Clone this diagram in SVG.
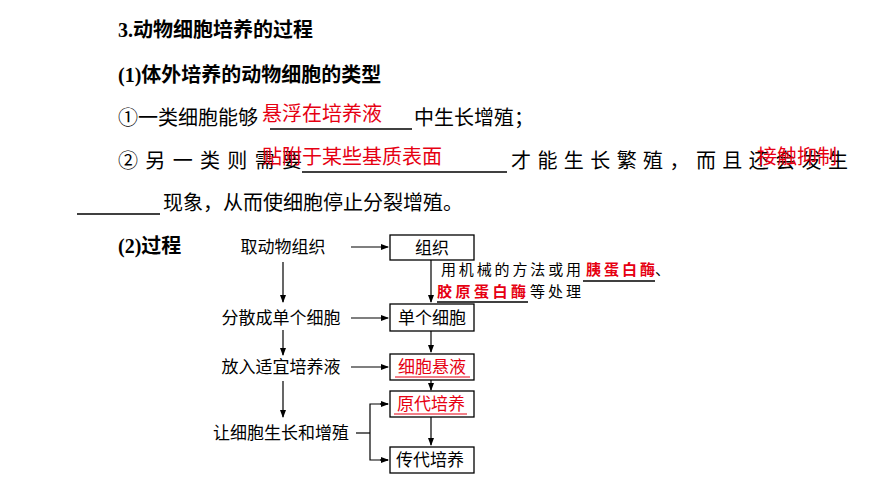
<svg xmlns="http://www.w3.org/2000/svg" width="870" height="489" viewBox="0 0 870 489">
<defs>
<marker id="ar" markerWidth="8" markerHeight="8" refX="7" refY="4" orient="auto" markerUnits="userSpaceOnUse"><path d="M0,1 L8,4 L0,7 Z" fill="#000"/></marker>
<style>
text{font-family:"Liberation Serif","Noto Sans CJK SC",serif;fill:#000}
.m{font-size:20px}
.r{fill:#e60012}
.f{font-size:17px}
.a{font-size:15px}
.b{fill:#fff;stroke:#000;stroke-width:1.3}
.l{stroke:#000;stroke-width:1.2;fill:none}
.u{stroke:#000;stroke-width:1.3}
</style>
</defs>
<rect width="870" height="489" fill="#fff"/>
<g id="text">
<text class="m" x="118" y="37" font-weight="bold">3.动物细胞培养的过程</text>
<text class="m" x="118" y="82" font-weight="bold">(1)体外培养的动物细胞的类型</text>
<text class="m" x="118" y="125">①一类细胞能够</text>
<line class="u" x1="270" y1="129" x2="412" y2="129"/>
<text class="m" x="414" y="125">中生长增殖；</text>
<text class="m r" x="262" y="121">悬浮在培养液</text>
<text class="m" x="118" y="168" textLength="184">②另一类则需要</text>
<line class="u" x1="302" y1="172" x2="507" y2="172"/>
<text class="m" x="511" y="168" textLength="337">才能生长繁殖，而且还会发生</text>
<text class="m r" x="262" y="164">贴附于某些基质表面</text>
<text class="m r" x="757" y="164">接触抑制</text>
<line class="u" x1="77" y1="214" x2="160" y2="214"/>
<text class="m" x="163" y="210">现象，从而使细胞停止分裂增殖。</text>
<text class="m" x="118" y="253" font-weight="bold">(2)过程</text>
</g>
<rect x="204" y="229" width="466" height="254" fill="#fff"/>
<g id="n1"><rect class="b" x="390" y="235" width="84" height="25"/><text class="f" x="432" y="254" text-anchor="middle">组织</text></g>
<g id="n2"><rect class="b" x="390" y="304" width="84" height="27"/><text class="f" x="432" y="324" text-anchor="middle">单个细胞</text></g>
<g id="n3"><rect class="b" x="390" y="354" width="84" height="26"/><text class="f r" x="432" y="373" text-anchor="middle">细胞悬液</text><line stroke="#e60012" x1="395" y1="377" x2="470" y2="377"/></g>
<g id="n4"><rect class="b" x="390" y="391" width="84" height="26"/><text class="f r" x="431" y="410" text-anchor="middle">原代培养</text><line stroke="#e60012" x1="394" y1="414" x2="467" y2="414"/></g>
<g id="n5"><rect class="b" x="390" y="447" width="84" height="26"/><text class="f" x="430" y="466" text-anchor="middle">传代培养</text></g>
<g id="left">
<text class="f" x="283" y="253" text-anchor="middle">取动物组织</text>
<text class="f" x="281" y="324" text-anchor="middle">分散成单个细胞</text>
<text class="f" x="281" y="373" text-anchor="middle">放入适宜培养液</text>
<text class="f" x="281" y="439" text-anchor="middle">让细胞生长和增殖</text>
</g>
<g id="note">
<text class="a" x="441" y="275" textLength="140">用机械的方法或用</text>
<text class="a r" x="586" y="275" textLength="69" font-weight="bold">胰蛋白酶</text>
<text class="a" x="655" y="275">、</text>
<line class="u" x1="583" y1="281" x2="655" y2="281"/>
<text class="a r" x="437" y="297" textLength="89" font-weight="bold">胶原蛋白酶</text>
<text class="a" x="530" y="297" textLength="51">等处理</text>
<line class="u" x1="437" y1="302" x2="528" y2="302"/>
</g>
<g id="connectors">
<line class="l" x1="351" y1="247" x2="388" y2="247" marker-end="url(#ar)"/>
<line class="l" x1="351" y1="318" x2="388" y2="318" marker-end="url(#ar)"/>
<line class="l" x1="351" y1="367" x2="388" y2="367" marker-end="url(#ar)"/>
<line class="l" x1="283" y1="262" x2="283" y2="302" marker-end="url(#ar)"/>
<line class="l" x1="283" y1="330" x2="283" y2="355" marker-end="url(#ar)"/>
<line class="l" x1="283" y1="381" x2="283" y2="417" marker-end="url(#ar)"/>
<line class="l" x1="431" y1="260" x2="431" y2="302" marker-end="url(#ar)"/>
<line class="l" x1="431" y1="331" x2="431" y2="352" marker-end="url(#ar)"/>
<line class="l" x1="431" y1="380" x2="431" y2="390" marker-end="url(#ar)"/>
<line class="l" x1="431" y1="417" x2="431" y2="445" marker-end="url(#ar)"/>
<polyline class="l" points="356,433 370,433"/>
<polyline class="l" points="388,404 370,404 370,460 388,460"/>
<line class="l" x1="380" y1="404" x2="388" y2="404" marker-end="url(#ar)"/>
<line class="l" x1="380" y1="460" x2="388" y2="460" marker-end="url(#ar)"/>
</g>
</svg>
